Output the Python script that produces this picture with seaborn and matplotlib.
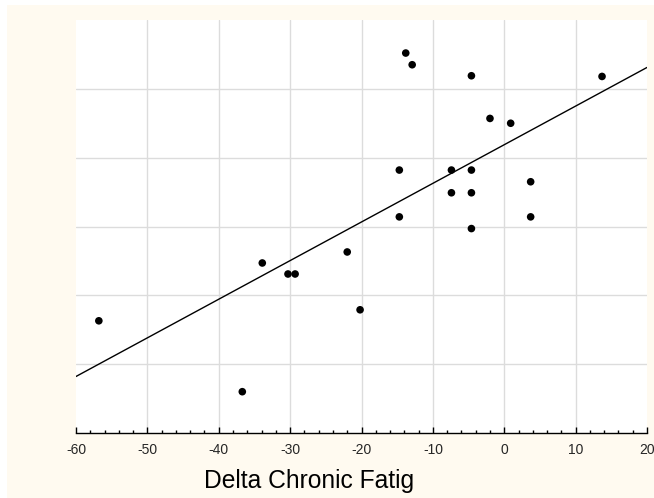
import matplotlib
matplotlib.use("Agg")
import matplotlib.pyplot as plt
from matplotlib.patches import Rectangle
from matplotlib.ticker import MultipleLocator, NullFormatter
import seaborn as sns
import pandas as pd

# Data
delta_chronic_fatig = [-56.8, -36.7, -33.9, -30.3, -29.3, -22.0, -20.2, -14.7, -14.7,
                       -13.8, -12.9, -7.4, -7.4, -4.6, -4.6, -4.6, -4.6, -2.0, 0.9,
                       3.7, 3.7, 13.7]
response = [16.3, 6.0, 24.7, 23.1, 23.1, 26.3, 17.9, 38.2, 31.4,
            55.2, 53.5, 38.2, 34.9, 51.9, 38.2, 34.9, 29.7, 45.7, 45.0,
            36.5, 31.4, 51.8]
x_ticks = [-60, -50, -40, -30, -20, -10, 0, 10, 20]
y_grid = [10, 20, 30, 40, 50]
x_label = "Delta Chronic Fatig"

df = pd.DataFrame({"x": delta_chronic_fatig, "y": response})

sns.set_style("white")
plt.rcParams["font.family"] = ["Liberation Sans", "DejaVu Sans"]

fig = plt.figure(figsize=(6.54, 4.98), dpi=100)
fig.patch.set_facecolor("white")
fig.patches.append(Rectangle((7 / 654, 0), 1, (498 - 5) / 498, transform=fig.transFigure,
                             facecolor="#FFFAF0", edgecolor="none", zorder=-10))

ax = fig.add_axes([76 / 654, (498 - 433) / 498, (647 - 76) / 654, (433 - 20) / 498])
ax.set_facecolor("white")
ax.set_xlim(-60, 20)
ax.set_ylim(0, 60)

sns.regplot(data=df, x="x", y="y", ax=ax, ci=None, truncate=False,
            scatter_kws=dict(s=30, color="black", alpha=1, edgecolors="none", zorder=3),
            line_kws=dict(color="black", linewidth=1.0, zorder=2))

ax.set_xlim(-60, 20)
ax.set_ylim(0, 60)
ax.set_xticks(x_ticks)
ax.set_xticklabels([str(t) for t in x_ticks])
ax.xaxis.set_minor_locator(MultipleLocator(2))
ax.set_yticks(y_grid)
ax.yaxis.set_major_formatter(NullFormatter())
ax.grid(True, which="major", color="#dcdcdc", linewidth=1.0, zorder=0)
ax.set_axisbelow(True)
xgl = ax.get_xgridlines()
xgl[0].set_visible(False)
xgl[-1].set_visible(False)
for s in ["top", "right", "left"]:
    ax.spines[s].set_visible(False)
ax.spines["bottom"].set_color("black")
ax.spines["bottom"].set_linewidth(1.0)
ax.tick_params(axis="x", which="major", direction="in", length=4, width=1, color="black",
               labelsize=10, pad=7, bottom=True)
ax.tick_params(axis="x", which="minor", direction="in", length=2, width=1, color="black",
               bottom=True)
ax.tick_params(axis="y", which="both", length=0, left=False)
ax.set_xlabel("")
ax.set_ylabel("")

fig.text(309 / 654, 1 - 481 / 498, x_label, ha="center", va="center", fontsize=17.7,
         color="black")

fig.savefig("out.png", dpi=100, facecolor=fig.get_facecolor())
